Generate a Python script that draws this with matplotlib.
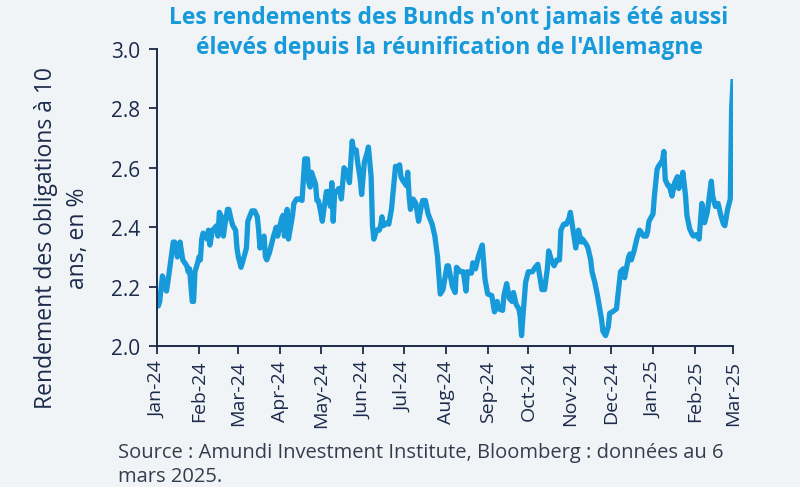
import matplotlib
matplotlib.use('Agg')
import matplotlib.pyplot as plt
import matplotlib.dates as mdates
import pandas as pd
from matplotlib.patches import Rectangle

plt.rcParams['font.family'] = ['Open Sans', 'DejaVu Sans']

# jours depuis le 1er janvier 2024, rendement du Bund 10 ans (%)
jours = [0, 1, 2, 4, 6, 7, 8, 12, 13, 15, 17, 18, 19, 22, 23, 24, 26, 27, 28, 30,
         31, 32, 33, 34, 35, 37, 38, 39, 41, 43, 44, 45, 46, 48, 49, 50, 52, 53, 55, 56,
         58, 59, 60, 62, 63, 66, 67, 70, 72, 74, 75, 76, 77, 79, 80, 81, 83, 86, 88, 89,
         92, 93, 94, 96, 97, 100, 101, 103, 105, 107, 109, 111, 112, 113, 114, 117, 118, 119, 120, 122,
         123, 125, 126, 128, 129, 130, 131, 134, 135, 136, 138, 140, 142, 144, 145, 147, 148, 150, 151, 153,
         155, 156, 158, 159, 160, 162, 164, 165, 166, 167, 170, 171, 173, 176, 177, 179, 180, 181, 184, 185,
         186, 187, 189, 191, 193, 195, 196, 198, 200, 203, 205, 207, 209, 211, 214, 215, 218, 220, 221, 224,
         226, 228, 229, 232, 233, 235, 237, 240, 242, 244, 247, 249, 251, 252, 255, 256, 258, 260, 262, 263,
         265, 267, 268, 269, 270, 272, 274, 277, 279, 281, 284, 286, 288, 289, 291, 293, 295, 297, 298, 300,
         302, 304, 305, 307, 309, 311, 313, 314, 317, 318, 320, 321, 323, 325, 328, 329, 331, 333, 334, 336,
         339, 342, 344, 345, 348, 349, 350, 352, 354, 356, 357, 359, 361, 362, 363, 366, 367, 369, 370, 373,
         374, 375, 377, 378, 380, 382, 384, 385, 387, 388, 390, 391, 393, 395, 396, 398, 400, 402, 404, 406,
         407, 409, 410, 412, 414, 416, 418, 419, 421, 423, 424, 425]
rendement = [2.15, 2.135, 2.15, 2.236, 2.20, 2.185, 2.215, 2.35, 2.35, 2.30, 2.35, 2.32, 2.29, 2.27, 2.25, 2.26, 2.15, 2.15, 2.25, 2.28,
             2.30, 2.29, 2.36, 2.38, 2.375, 2.36, 2.39, 2.34, 2.39, 2.40, 2.405, 2.37, 2.45, 2.43, 2.37, 2.405, 2.46, 2.46, 2.42, 2.405,
             2.39, 2.33, 2.30, 2.265, 2.28, 2.33, 2.42, 2.455, 2.455, 2.435, 2.39, 2.33, 2.35, 2.37, 2.30, 2.29, 2.315, 2.37, 2.40, 2.37,
             2.43, 2.44, 2.37, 2.46, 2.36, 2.44, 2.48, 2.495, 2.495, 2.49, 2.63, 2.63, 2.55, 2.535, 2.585, 2.545, 2.49, 2.49, 2.47, 2.42,
             2.455, 2.52, 2.52, 2.47, 2.55, 2.42, 2.51, 2.53, 2.53, 2.495, 2.60, 2.585, 2.55, 2.69, 2.66, 2.66, 2.62, 2.56, 2.51, 2.62,
             2.65, 2.67, 2.57, 2.405, 2.36, 2.39, 2.39, 2.405, 2.435, 2.405, 2.415, 2.41, 2.46, 2.605, 2.60, 2.61, 2.57, 2.56, 2.54, 2.585,
             2.505, 2.46, 2.495, 2.48, 2.42, 2.47, 2.49, 2.49, 2.445, 2.41, 2.37, 2.30, 2.175, 2.19, 2.27, 2.27, 2.20, 2.18, 2.265, 2.25,
             2.25, 2.185, 2.25, 2.245, 2.28, 2.26, 2.30, 2.34, 2.225, 2.175, 2.17, 2.115, 2.15, 2.125, 2.12, 2.17, 2.21, 2.16, 2.15, 2.18,
             2.14, 2.125, 2.10, 2.035, 2.10, 2.215, 2.25, 2.25, 2.265, 2.275, 2.19, 2.19, 2.26, 2.32, 2.29, 2.27, 2.29, 2.29, 2.39, 2.41,
             2.41, 2.43, 2.45, 2.39, 2.33, 2.39, 2.35, 2.36, 2.34, 2.33, 2.29, 2.25, 2.215, 2.17, 2.09, 2.05, 2.035, 2.065, 2.11, 2.115,
             2.125, 2.25, 2.26, 2.23, 2.30, 2.31, 2.29, 2.32, 2.36, 2.39, 2.385, 2.37, 2.37, 2.385, 2.42, 2.445, 2.505, 2.595, 2.605, 2.625,
             2.655, 2.56, 2.54, 2.54, 2.505, 2.55, 2.57, 2.53, 2.56, 2.585, 2.505, 2.44, 2.395, 2.375, 2.37, 2.375, 2.36, 2.48, 2.415, 2.45,
             2.485, 2.555, 2.505, 2.47, 2.48, 2.44, 2.41, 2.405, 2.46, 2.495, 2.80, 2.89]

debut = pd.Timestamp('2024-01-01')
dates = debut + pd.to_timedelta(jours, unit='D')

navy = '#1c2b4b'
bleu = '#179ada'
fond = '#f1f4f7'

fig = plt.figure(figsize=(8, 5.02), dpi=100, facecolor=fond)
fig.patches.append(Rectangle((0, 0), 1, 14 / 502, transform=fig.transFigure,
                             facecolor='white', edgecolor='none', zorder=0))
ax = fig.add_axes([157 / 800, 1 - 347 / 502, 576 / 800, 297 / 502])
ax.set_facecolor(fond)

ax.plot(dates, rendement, color=bleu, lw=3.8, solid_joinstyle='round')

ax.set_ylim(2.0, 3.0)
ax.set_yticks([2.0, 2.2, 2.4, 2.6, 2.8, 3.0])
ax.set_yticklabels(['2.0', '2.2', '2.4', '2.6', '2.8', '3.0'])
ax.set_xlim(pd.Timestamp('2024-01-01'), pd.Timestamp('2025-03-01'))
ax.xaxis.set_major_locator(mdates.MonthLocator())
ax.xaxis.set_major_formatter(mdates.DateFormatter('%b-%y'))

for s in ['top', 'right']:
    ax.spines[s].set_visible(False)
for s in ['left', 'bottom']:
    ax.spines[s].set_color(navy)
    ax.spines[s].set_linewidth(1.4)
ax.tick_params(colors=navy, labelcolor=navy, length=6, width=1.3)
ax.tick_params(axis='x', labelrotation=90, pad=4, labelsize=14)
ax.tick_params(axis='y', pad=6, labelsize=15)

fig.text(62 / 800, 1 - 238 / 502, "Rendement des obligations à 10\nans, en %",
         rotation=90, ha='center', va='center', multialignment='center',
         fontsize=16.5, color=navy, linespacing=1.4)

fig.text(449 / 800, 1 - 33 / 502,
         "Les rendements des Bunds n'ont jamais été aussi\nélevés depuis la réunification de l'Allemagne",
         ha='center', va='center', multialignment='center', fontsize=16.5,
         fontweight='bold', color=bleu, linespacing=1.3)

fig.text(118 / 800, 1 - 443 / 502,
         "Source : Amundi Investment Institute, Bloomberg : données au 6\nmars 2025.",
         ha='left', va='top', fontsize=14.5, color='#333d4d', linespacing=1.3)

plt.savefig('out.png', dpi=100, facecolor=fond)
